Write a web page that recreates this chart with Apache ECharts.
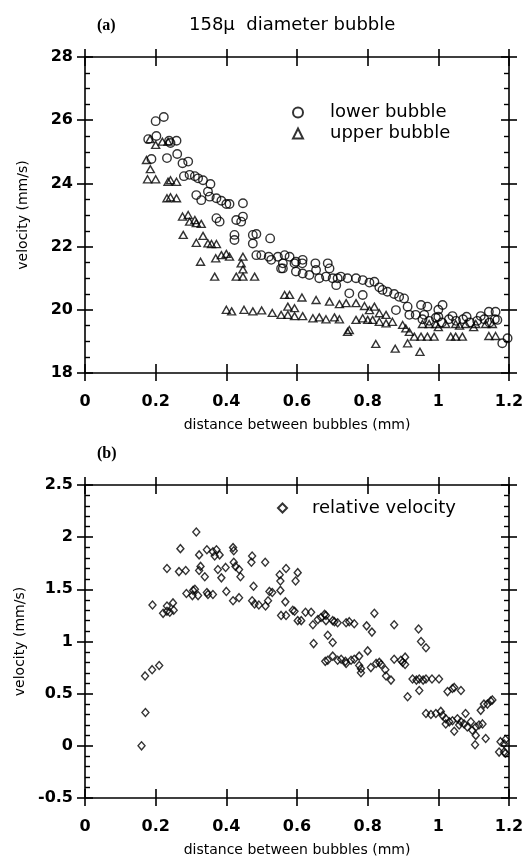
<!DOCTYPE html>
<html><head><meta charset="utf-8">
<script src="https://cdn.jsdelivr.net/npm/echarts@6/dist/echarts.min.js"></script>
<style>html,body{margin:0;padding:0;background:#fff}#c{width:530px;height:858px}</style>
</head><body><div id="c"></div>
<script>
// ---- data ----
const xTicks = [0, 0.2, 0.4, 0.6, 0.8, 1, 1.2];
const topYTicks = [18, 20, 22, 24, 26, 28];
const botYTicks = [-0.5, 0, 0.5, 1, 1.5, 2, 2.5];

const lowerBubble = [
[0.200,25.97],[0.223,26.1],[0.179,25.4],[0.202,25.5],[0.238,25.35],[0.259,25.35],[0.242,25.28],[0.188,24.77],[0.232,24.8],[0.261,24.93],
[0.276,24.64],[0.292,24.69],[0.280,24.23],[0.296,24.27],[0.311,24.23],[0.320,24.16],[0.334,24.1],[0.355,23.98],[0.315,23.63],[0.329,23.47],
[0.348,23.74],[0.353,23.58],[0.372,23.53],[0.386,23.45],[0.400,23.35],[0.409,23.35],[0.447,23.37],[0.372,22.9],[0.381,22.79],[0.428,22.84],
[0.447,22.95],[0.442,22.79],[0.423,22.37],[0.423,22.21],[0.475,22.37],[0.485,22.4],[0.475,22.1],[0.524,22.26],[0.485,21.73],[0.499,21.73],
[0.520,21.68],[0.527,21.58],[0.546,21.68],[0.565,21.73],[0.579,21.68],[0.560,21.31],[0.597,21.52],[0.597,21.21],[0.560,21.47],[0.555,21.31],
[0.593,21.47],[0.616,21.58],[0.615,21.47],[0.616,21.15],[0.652,21.47],[0.654,21.26],[0.687,21.47],[0.692,21.31],[0.635,21.1],[0.663,21.0],
[0.682,21.05],[0.701,21.0],[0.715,21.0],[0.724,21.05],[0.711,20.78],[0.743,21.0],[0.767,21.0],[0.786,20.94],[0.805,20.86],[0.819,20.89],
[0.833,20.71],[0.842,20.63],[0.856,20.57],[0.875,20.5],[0.889,20.41],[0.903,20.36],[0.913,20.1],[0.748,20.52],[0.786,20.47],[0.880,19.99],
[0.918,19.84],[0.936,19.84],[0.951,20.15],[0.969,20.1],[1.012,20.15],
[0.955,19.7],[0.974,19.65],[0.993,19.75],[1.01,19.6],[1.03,19.7],[1.05,19.65],[1.07,19.7],[1.09,19.6],[1.11,19.65],[1.13,19.7],
[1.145,19.6],[1.16,19.7],[0.96,19.84],[1.0,19.78],[1.04,19.8],[1.08,19.78],[1.12,19.8],[1.0,20.0],
[1.143,19.94],[1.162,19.94],[1.167,19.68],[1.181,18.94],[1.196,19.1]
];

const upperBubble = [
[0.174,24.74],[0.185,24.45],[0.177,24.13],[0.200,24.13],[0.184,25.4],[0.200,25.22],[0.219,25.32],[0.235,25.32],[0.235,24.05],[0.242,24.1],
[0.259,24.05],[0.232,23.53],[0.242,23.56],[0.259,23.53],[0.276,22.95],[0.292,23.0],[0.296,22.79],[0.311,22.84],[0.315,22.74],[0.329,22.72],
[0.278,22.37],[0.315,22.12],[0.334,22.34],[0.348,22.1],[0.358,22.08],[0.372,22.08],[0.327,21.52],[0.370,21.63],[0.386,21.73],[0.400,21.77],
[0.409,21.68],[0.447,21.68],[0.442,21.47],[0.447,21.28],[0.367,21.05],[0.428,21.05],[0.447,21.05],[0.480,21.05],
[0.40,20.0],[0.415,19.95],[0.45,20.0],[0.475,19.95],[0.50,19.98],[0.53,19.9],
[0.565,20.47],[0.579,20.47],[0.614,20.39],[0.654,20.31],[0.692,20.26],[0.720,20.18],[0.739,20.21],[0.767,20.21],[0.791,20.12],[0.574,20.1],
[0.593,20.05],[0.555,19.84],[0.574,19.84],[0.593,19.8],[0.616,19.8],[0.645,19.73],[0.663,19.76],[0.682,19.7],[0.706,19.76],[0.720,19.7],
[0.748,19.36],[0.743,19.3],[0.767,19.68],[0.786,19.73],[0.800,19.68],[0.814,19.68],[0.833,19.62],[0.852,19.57],[0.870,19.62],[0.805,19.99],
[0.819,20.1],[0.833,19.89],[0.852,19.84],[0.899,19.52],[0.908,19.41],[0.918,19.3],[0.932,19.15],[0.951,19.15],[0.969,19.15],[0.988,19.15],
[1.035,19.15],[1.049,19.15],[1.068,19.15],[1.143,19.17],[1.162,19.17],[0.823,18.92],[0.878,18.77],[0.913,18.94],[0.948,18.67],
[0.955,19.55],[0.974,19.55],[0.993,19.55],[1.021,19.55],[1.049,19.55],[1.077,19.55],[1.106,19.55],[1.134,19.55],[1.153,19.55],
[1.0,19.45],[1.06,19.5],[1.1,19.45]
];

const relativeVelocity = [
[0.16,0.0],[0.171,0.32],[0.17,0.67],[0.19,0.73],[0.21,0.77],
[0.191,1.35],[0.221,1.27],[0.232,1.29],[0.232,1.34],[0.249,1.37],[0.251,1.30],[0.240,1.28],[0.232,1.70],[0.270,1.89],[0.266,1.67],
[0.285,1.68],[0.287,1.46],[0.306,1.49],[0.304,1.44],[0.320,1.44],[0.311,1.50],[0.315,2.05],[0.323,1.83],[0.327,1.72],[0.323,1.68],
[0.339,1.62],[0.345,1.88],[0.362,1.86],[0.367,1.82],[0.372,1.88],[0.381,1.83],[0.345,1.47],[0.348,1.45],[0.362,1.45],[0.376,1.69],
[0.386,1.61],[0.398,1.71],[0.400,1.48],[0.419,1.90],[0.421,1.87],[0.421,1.76],[0.426,1.72],[0.436,1.69],[0.440,1.62],[0.419,1.39],
[0.436,1.42],[0.473,1.82],[0.471,1.76],[0.477,1.53],[0.473,1.39],[0.480,1.36],[0.492,1.35],[0.511,1.34],[0.518,1.39],[0.522,1.48],
[0.530,1.47],[0.510,1.76],[0.551,1.64],[0.553,1.58],[0.553,1.49],[0.567,1.38],[0.569,1.70],[0.555,1.25],[0.569,1.25],[0.593,1.29],
[0.602,1.20],[0.596,1.58],[0.602,1.66],[0.588,1.30],[0.612,1.20],[0.624,1.28],[0.640,1.28],[0.645,1.16],[0.647,0.98],[0.659,1.21],
[0.668,1.23],[0.678,1.26],[0.682,1.25],[0.682,1.20],[0.701,1.20],[0.706,1.19],[0.715,1.18],[0.687,1.06],[0.701,0.99],[0.680,0.81],
[0.687,0.82],[0.701,0.86],[0.715,0.82],[0.725,0.83],[0.737,0.81],[0.739,0.79],[0.739,1.18],[0.748,1.19],[0.762,1.17],[0.753,0.82],
[0.762,0.83],[0.776,0.86],[0.776,0.77],[0.781,0.74],[0.781,0.70],[0.797,1.15],[0.812,1.09],[0.800,0.91],[0.819,1.27],[0.809,0.75],
[0.824,0.79],[0.833,0.80],[0.838,0.78],[0.850,0.73],[0.852,0.67],[0.866,0.63],[0.875,1.16],[0.875,0.83],[0.894,0.82],[0.899,0.80],
[0.906,0.85],[0.906,0.78],[0.913,0.47],[0.927,0.64],[0.938,0.63],[0.946,0.64],[0.946,0.53],[0.957,0.63],[0.965,0.64],[0.982,0.64],
[1.002,0.64],[0.944,1.12],[0.951,1.0],[0.965,0.94],[1.026,0.52],[1.040,0.55],[1.045,0.56],[1.064,0.53],
[0.965,0.31],[0.979,0.30],[0.993,0.31],[1.007,0.33],[1.012,0.29],[1.021,0.26],[1.021,0.21],[1.031,0.23],[1.040,0.24],[1.045,0.14],
[1.054,0.26],[1.059,0.20],[1.064,0.23],[1.077,0.31],[1.073,0.21],[1.082,0.18],[1.092,0.23],[1.096,0.15],[1.106,0.18],[1.106,0.10],
[1.115,0.20],[1.125,0.21],[1.134,0.07],[1.104,0.01],[1.120,0.34],[1.129,0.40],[1.139,0.40],[1.148,0.43],[1.153,0.44],
[1.176,0.04],[1.186,0.02],[1.190,0.06],[1.172,-0.06],[1.186,-0.06],[1.190,-0.07]
];

// ---- chart ----
const FONT = 'DejaVu Sans';
const LINE = {show:true, onZero:false, lineStyle:{color:'#000', width:1.6}};
const NOLINE = {show:false, onZero:false};
const tickLbl = {fontFamily:FONT, fontSize:16, fontWeight:'bold', color:'#000'};
const tickLine = {color:'#000', width:1.6};

function xAxes(grid){
  const base = {type:'value', gridIndex:grid, min:xTicks[0], max:xTicks[xTicks.length-1], interval:0.2, splitLine:{show:false}};
  return [
    Object.assign({}, base, {position:'bottom', axisLine:LINE, axisTick:{show:true, inside:false, length:8, lineStyle:tickLine},
      axisLabel:{show:true, margin:21, ...tickLbl},
      name:'distance between bubbles (mm)', nameLocation:'middle', nameGap:45,
      nameTextStyle:{fontFamily:FONT, fontSize:14, color:'#000'}}),
    Object.assign({}, base, {position:'bottom', axisLine:NOLINE, axisTick:{show:true, inside:true, length:9, lineStyle:tickLine}, axisLabel:{show:false}}),
    Object.assign({}, base, {position:'top', axisLine:LINE, axisTick:{show:true, inside:false, length:8, lineStyle:tickLine}, axisLabel:{show:false}}),
    Object.assign({}, base, {position:'top', axisLine:NOLINE, axisTick:{show:true, inside:true, length:9, lineStyle:tickLine}, axisLabel:{show:false}})
  ];
}
function yAxes(grid, ticks, interval, minorSplit){
  const base = {type:'value', gridIndex:grid, min:ticks[0], max:ticks[ticks.length-1], interval:interval, splitLine:{show:false}};
  const tk = {show:true, length:8, lineStyle:tickLine};
  const minor = {show:true, splitNumber:minorSplit, length:5, lineStyle:{color:'#000',width:1.4}};
  return [
    Object.assign({}, base, {position:'left', axisLine:LINE, axisTick:Object.assign({inside:false}, tk),
      axisLabel:{show:true, margin:12, ...tickLbl},
      name:'velocity (mm/s)', nameLocation:'middle', nameGap:55, nameRotate:90,
      nameTextStyle:{fontFamily:FONT, fontSize:14, color:'#000'}}),
    Object.assign({}, base, {position:'left', axisLine:NOLINE, axisTick:Object.assign({inside:true}, tk), minorTick:minor, axisLabel:{show:false}}),
    Object.assign({}, base, {position:'right', axisLine:LINE, axisTick:Object.assign({inside:false}, tk), axisLabel:{show:false}}),
    Object.assign({}, base, {position:'right', axisLine:NOLINE, axisTick:Object.assign({inside:true}, tk), minorTick:minor, axisLabel:{show:false}})
  ];
}

const markerStyle = {color:'rgba(0,0,0,0)', borderColor:'#000', borderWidth:1.4};

const option = {
  animation:false,
  backgroundColor:'#fff',
  title:[
    {text:'(a)', left:92, top:13, textStyle:{fontFamily:'Liberation Serif', fontSize:16, fontWeight:'bold', color:'#000'}},
    {text:'158μ  diameter bubble', left:184, top:11, textStyle:{fontFamily:FONT, fontSize:18, fontWeight:'normal', color:'#000'}},
    {text:'(b)', left:92, top:441, textStyle:{fontFamily:'Liberation Serif', fontSize:16, fontWeight:'bold', color:'#000'}}
  ],
  grid:[
    {left:85, right:21, top:57, height:316},
    {left:85, right:21, top:485, height:315}
  ],
  xAxis:[...xAxes(0), ...xAxes(1)],
  yAxis:[...yAxes(0, topYTicks, 2, 4), ...yAxes(1, botYTicks, 0.5, 5)],
  legend:[
    {data:['lower bubble','upper bubble'], orient:'vertical', left:287, top:98, itemWidth:10, itemHeight:10, itemGap:2,
     selectedMode:false, textStyle:{fontFamily:FONT, fontSize:18, lineHeight:19, color:'#000', padding:[0,0,0,22]}},
    {data:['relative velocity'], left:272, top:494, itemWidth:9, itemHeight:9,
     selectedMode:false, textStyle:{fontFamily:FONT, fontSize:18, color:'#000', padding:[0,0,0,20]}}
  ],
  series:[
    {name:'lower bubble', type:'scatter', xAxisIndex:0, yAxisIndex:0, symbol:'circle', symbolSize:8.5, itemStyle:markerStyle, data:lowerBubble},
    {name:'upper bubble', type:'scatter', xAxisIndex:0, yAxisIndex:0, symbol:'triangle', symbolSize:[8,7], itemStyle:markerStyle, data:upperBubble},
    {name:'relative velocity', type:'scatter', xAxisIndex:4, yAxisIndex:4, symbol:'diamond', symbolSize:[7,8], itemStyle:markerStyle, data:relativeVelocity}
  ]
};
const chart = echarts.init(document.getElementById('c'), null, {renderer:'canvas'});
chart.setOption(option);
</script></body></html>
